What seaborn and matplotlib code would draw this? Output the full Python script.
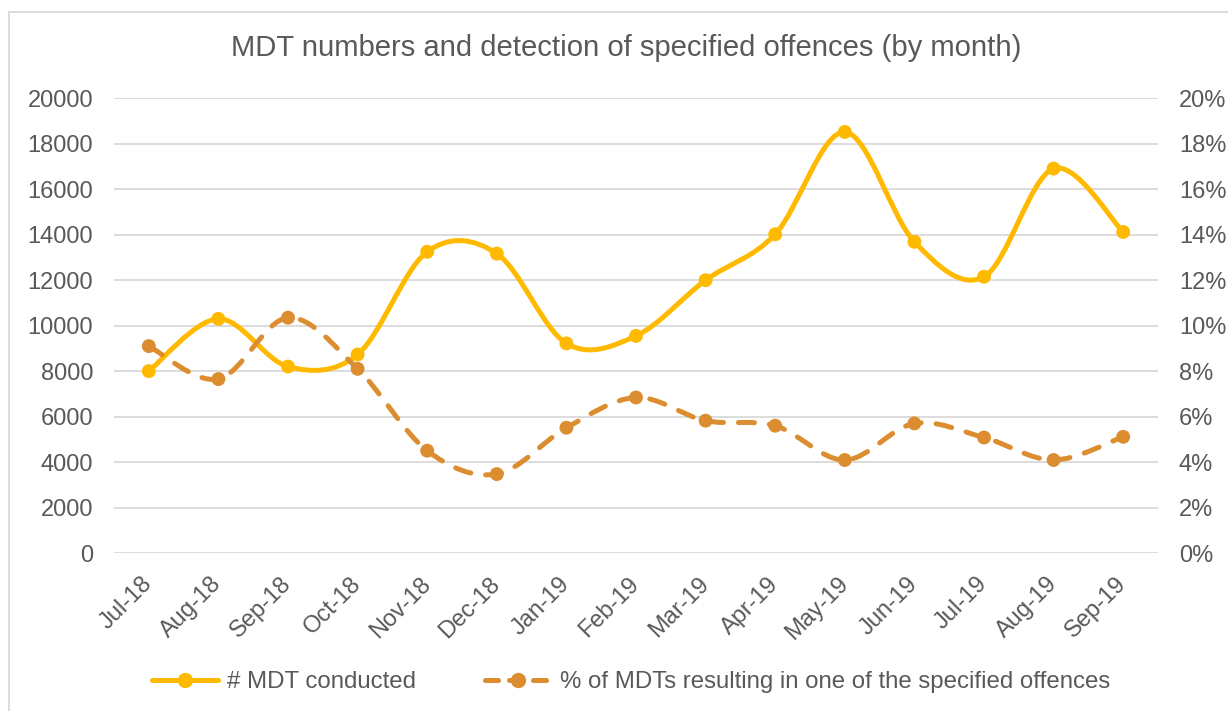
import numpy as np
import pandas as pd
import matplotlib
matplotlib.use("Agg")
import matplotlib.pyplot as plt
import seaborn as sns
from matplotlib.path import Path
from matplotlib.patches import PathPatch, Rectangle
from matplotlib.lines import Line2D
from matplotlib.ticker import FuncFormatter

# ---- data ----
months = ["Jul-18", "Aug-18", "Sep-18", "Oct-18", "Nov-18", "Dec-18", "Jan-19",
          "Feb-19", "Mar-19", "Apr-19", "May-19", "Jun-19", "Jul-19", "Aug-19", "Sep-19"]
mdt_conducted = [8000, 10300, 8200, 8730, 13250, 13170, 9220, 9550, 12000,
                 14020, 18520, 13690, 12150, 16910, 14120]
pct_offences = [9.1, 7.65, 10.35, 8.1, 4.5, 3.47, 5.51, 6.84, 5.82,
                5.6, 4.09, 5.7, 5.08, 4.09, 5.11]
left_ticks = [0, 2000, 4000, 6000, 8000, 10000, 12000, 14000, 16000, 18000, 20000]
right_ticks = [0, 2, 4, 6, 8, 10, 12, 14, 16, 18, 20]
title = "MDT numbers and detection of specified offences (by month)"
label_mdt = "# MDT conducted"
label_pct = "% of MDTs resulting in one of the specified offences"

df = pd.DataFrame({"month": months, "pos": np.arange(len(months)),
                   "mdt": mdt_conducted, "pct": pct_offences})

C_MDT = "#FFBA00"
C_PCT = "#DB8D30"
TXT = "#595959"
GRID = "#D9D9D9"

sns.set_theme(style="white")
plt.rcParams["font.family"] = ["Liberation Sans", "DejaVu Sans"]

W, H = 1228, 711
fig = plt.figure(figsize=(W / 100, H / 100), dpi=100)
fig.patch.set_facecolor("white")
ax = fig.add_axes([114 / W, 1 - 553 / H, (1158 - 114) / W, (553 - 98.3) / H])
ax2 = ax.twinx()


def smooth_path(xs, ys):
    """Excel-like smoothed line: cubic Bezier segments through the data points."""
    xs = np.asarray(xs, float)
    ys = np.asarray(ys, float)
    n = len(xs)
    verts = [(xs[0], ys[0])]
    codes = [Path.MOVETO]
    for i in range(n - 1):
        p0 = np.array([xs[max(i - 1, 0)], ys[max(i - 1, 0)]])
        p1 = np.array([xs[i], ys[i]])
        p2 = np.array([xs[i + 1], ys[i + 1]])
        p3 = np.array([xs[min(i + 2, n - 1)], ys[min(i + 2, n - 1)]])
        c1 = p1 + (p2 - p0) / 6.0
        c2 = p2 - (p3 - p1) / 6.0
        verts += [tuple(c1), tuple(c2), tuple(p2)]
        codes += [Path.CURVE4, Path.CURVE4, Path.CURVE4]
    return Path(verts, codes)


LW = 3.6
MS = 10
FS = 17

# MDT line (left axis)
ax.add_patch(PathPatch(smooth_path(df["pos"], df["mdt"]), facecolor="none",
                       edgecolor=C_MDT, lw=LW, capstyle="round", joinstyle="round", zorder=3))
sns.scatterplot(data=df, x="pos", y="mdt", ax=ax, color=C_MDT, s=MS ** 2,
                edgecolor="none", zorder=4, legend=False)

# % line (right axis)
pp = PathPatch(smooth_path(df["pos"], df["pct"]), facecolor="none",
               edgecolor=C_PCT, lw=LW, linestyle=(0, (3.2, 3.0)), capstyle="round",
               joinstyle="round", zorder=3)
ax2.add_patch(pp)
sns.scatterplot(data=df, x="pos", y="pct", ax=ax2, color=C_PCT, s=MS ** 2,
                edgecolor="none", zorder=4, legend=False)

ax.set_xlim(-0.5, len(months) - 0.5)
ax.set_ylim(0, 20000)
ax2.set_ylim(0, 20)
ax.set_yticks(left_ticks)
ax2.set_yticks(right_ticks)
ax2.yaxis.set_major_formatter(FuncFormatter(lambda v, p: f"{v:.0f}%"))
ax.set_xticks(df["pos"])
ax.set_xticklabels(months, rotation=45, ha="right", va="center", rotation_mode="anchor")

for a in (ax, ax2):
    for s in a.spines.values():
        s.set_visible(False)
    a.set_xlabel("")
    a.set_ylabel("")
ax.grid(axis="y", color=GRID, lw=1.3)
ax.grid(axis="x", visible=False)
ax2.grid(False)

ax.tick_params(axis="y", length=0, pad=15, labelsize=FS, labelcolor=TXT)
ax2.tick_params(axis="y", length=0, pad=15, labelsize=FS, labelcolor=TXT)
ax.tick_params(axis="x", length=0, pad=20, labelsize=FS, labelcolor=TXT)

# title
fig.text(626.5 / W, 1 - 48 / H, title, ha="center", va="center",
         fontsize=21.1, color=TXT)

# legend
h1 = Line2D([], [], color=C_MDT, lw=LW, marker="o", markersize=MS,
            solid_capstyle="round")
h2 = Line2D([], [], color=C_PCT, lw=LW, marker="o", markersize=MS,
            linestyle=(0, (2.6, 2.2)), dash_capstyle="round")
leg = fig.legend([h1, h2], [label_mdt, label_pct], loc="center",
                 bbox_to_anchor=(631 / W, 1 - 682 / H), ncol=2, frameon=False,
                 fontsize=17.3, handlelength=2.75, handletextpad=0.35,
                 columnspacing=2.9, labelcolor=TXT)

# chart border
fig.patches.append(Rectangle((9 / W, -0.05), 1.1, 1 - 12 / H + 0.05,
                             transform=fig.transFigure, fill=False,
                             edgecolor="#D9D9D9", lw=1.3, zorder=0))

fig.savefig("out.png", dpi=100)
